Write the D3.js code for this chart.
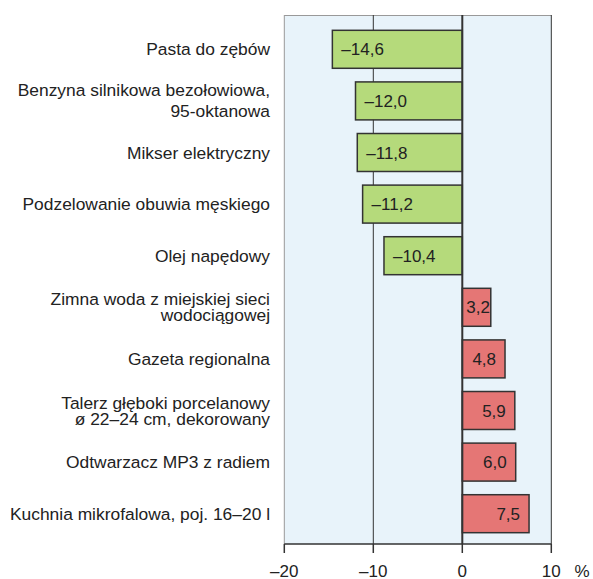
<!DOCTYPE html>
<html><head><meta charset="utf-8">
<script src="https://cdn.jsdelivr.net/npm/d3@7"></script>
<style>body{margin:0;background:#fff}svg{display:block}text{font-family:"Liberation Sans",Arial,sans-serif;fill:#222}</style>
</head><body>
<svg id="c" width="593" height="579"></svg>
<script>
const categories = [
  ["Pasta do zębów"],
  ["Benzyna silnikowa bezołowiowa,", "95-oktanowa"],
  ["Mikser elektryczny"],
  ["Podzelowanie obuwia męskiego"],
  ["Olej napędowy"],
  ["Zimna woda z miejskiej sieci", "wodociągowej"],
  ["Gazeta regionalna"],
  ["Talerz głęboki porcelanowy", "ø 22–24 cm, dekorowany"],
  ["Odtwarzacz MP3 z radiem"],
  ["Kuchnia mikrofalowa, poj. 16–20 l"]
];
const values = [-14.6, -12.0, -11.8, -11.2, -8.8, 3.2, 4.8, 5.9, 6.0, 7.5];
const valueLabels = ["–14,6", "–12,0", "–11,8", "–11,2", "–10,4", "3,2", "4,8", "5,9", "6,0", "7,5"];
const ticks = [-20, -10, 0, 10];
const tickLabels = ["–20", "–10", "0", "10"];

const svg = d3.select("#c");
const x = d3.scaleLinear().domain([-20, 10]).range([284.3, 551.3]);
const y = d3.scaleBand().domain(d3.range(categories.length)).range([23.5, 539.5]).paddingInner(0.264).paddingOuter(0.132);
const plotTop = 15, plotBottom = 544;

svg.append("rect").attr("x", x(-20)).attr("y", plotTop).attr("width", x(10) - x(-20)).attr("height", plotBottom - plotTop).attr("fill", "#e8f3fa");
svg.append("line").attr("x1", x(-20)).attr("x2", x(10)).attr("y1", plotTop + 0.5).attr("y2", plotTop + 0.5).attr("stroke", "#999").attr("stroke-width", 1);
svg.append("line").attr("x1", x(-20)).attr("x2", x(-20)).attr("y1", plotTop).attr("y2", plotBottom).attr("stroke", "#999").attr("stroke-width", 1);
svg.append("line").attr("x1", x(10)).attr("x2", x(10)).attr("y1", plotTop).attr("y2", plotBottom).attr("stroke", "#333").attr("stroke-width", 1);
svg.append("line").attr("x1", x(-10)).attr("x2", x(-10)).attr("y1", plotTop).attr("y2", plotBottom).attr("stroke", "#333").attr("stroke-width", 1);

svg.selectAll("rect.bar").data(values).enter().append("rect").attr("class", "bar")
  .attr("x", d => x(Math.min(0, d)))
  .attr("y", (d, i) => y(i))
  .attr("width", d => Math.abs(x(d) - x(0)))
  .attr("height", y.bandwidth())
  .attr("fill", d => d < 0 ? "#b5da7b" : "#e57675")
  .attr("stroke", "#333").attr("stroke-width", 1.5);

svg.append("line").attr("x1", x(0)).attr("x2", x(0)).attr("y1", plotTop).attr("y2", plotBottom).attr("stroke", "#333").attr("stroke-width", 2);

values.forEach((d, i) => {
  const cy = y(i) + y.bandwidth() / 2 + 6;
  const t = svg.append("text").attr("y", cy).attr("font-size", 17).text(valueLabels[i]);
  if (d < 0) {
    t.attr("x", x(d) + 9).attr("text-anchor", "start");
  } else {
    const w = t.node().getComputedTextLength();
    const xs = Math.max(x(0) + 4, x(d) - 9 - w);
    t.attr("x", xs).attr("text-anchor", "start");
  }
});

categories.forEach((lines, i) => {
  const cy = y(i) + y.bandwidth() / 2 + 6;
  const lh = i === 1 ? 21 : 16;
  const t = svg.append("text").attr("text-anchor", "end").attr("font-size", 17.4);
  lines.forEach((l, j) => {
    t.append("tspan").attr("x", 270).attr("y", cy + (j - (lines.length - 1) / 2) * lh).text(l);
  });
});

const axisG = svg.append("g").attr("transform", `translate(0,${plotBottom})`);
axisG.append("line").attr("x1", x(-20)).attr("x2", x(10)).attr("stroke", "#333").attr("stroke-width", 1.5);
ticks.forEach((v, i) => {
  axisG.append("line").attr("x1", x(v)).attr("x2", x(v)).attr("y1", 0).attr("y2", 9).attr("stroke", "#333").attr("stroke-width", 1.5);
  axisG.append("text").attr("x", x(v)).attr("y", 32.5).attr("text-anchor", "middle").attr("font-size", 17).text(tickLabels[i]);
});
axisG.append("text").attr("x", 582).attr("y", 32.5).attr("text-anchor", "middle").attr("font-size", 17).text("%");
</script>
</body></html>
